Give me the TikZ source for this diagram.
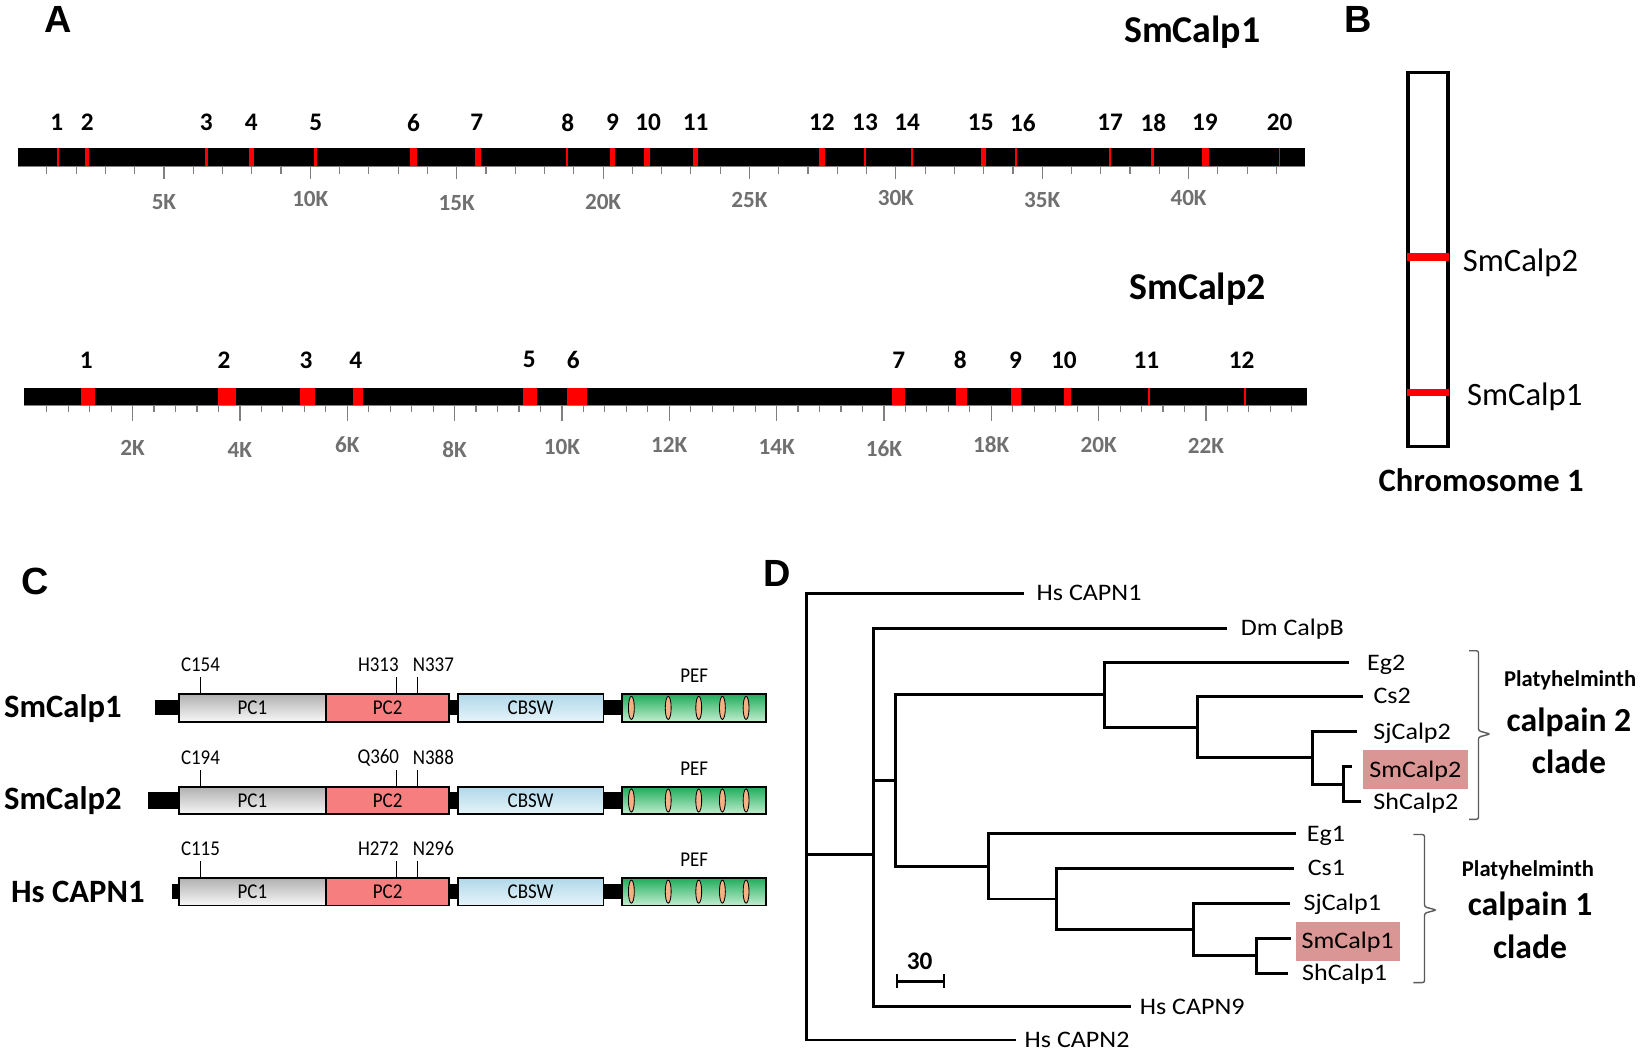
\documentclass[tikz,border=0pt]{standalone}
\usepackage{fontspec}
\setmainfont{Carlito}
\newfontfamily\arialfont{Liberation Sans}
\newfontfamily\narrowfont[FakeStretch=0.9]{Carlito}
\newfontfamily\widefont[FakeStretch=1.1]{Carlito}
\usetikzlibrary{positioning}
\newcommand{\fsz}[1]{\fontsize{#1}{#1}\selectfont}
\definecolor{exonred}{RGB}{255,0,0}
\definecolor{ticklabel}{RGB}{112,112,112}
\definecolor{pctwo}{RGB}{246,126,126}
\definecolor{cbswtop}{RGB}{176,216,233}
\definecolor{cbswbot}{RGB}{230,244,250}
\definecolor{peftop}{RGB}{30,172,90}
\definecolor{pefbot}{RGB}{196,238,208}
\definecolor{efhand}{RGB}{244,177,131}
\definecolor{highlight}{RGB}{217,150,148}
\definecolor{bracket}{RGB}{90,90,90}

\begin{document}
\begin{tikzpicture}[x=1pt, y=-1pt]
  \useasboundingbox[fill=white] (0, 0) rectangle (1568, 1000);  % whole figure

  \tikzstyle{letter}=[font=\arialfont\fsz{36}\bfseries, inner sep=0pt]
  \tikzstyle{title}=[font=\fsz{36}\bfseries, inner sep=0pt]
  \tikzstyle{exon}=[fill=exonred]
  \tikzstyle{num}=[font=\fsz{24}\bfseries, inner sep=0pt]
  \tikzstyle{tickline}=[draw=gray, line width=1.1pt]
  \tikzstyle{klabel}=[font=\fsz{22}\bfseries, text=ticklabel, inner sep=0pt]
  \tikzstyle{chrom}=[font=\fsz{31}, anchor=west, inner sep=0pt]
  \tikzstyle{rowname}=[font=\fsz{31}\bfseries, anchor=west, inner sep=0pt]
  \tikzstyle{dombox}=[draw, line width=1.8pt, minimum height=26.4pt, inner sep=0pt, font=\narrowfont\fsz{20}]
  \tikzstyle{site}=[font=\narrowfont\fsz{20}, inner sep=0pt]
  \tikzstyle{linker}=[fill=black]
  \tikzstyle{branch}=[line width=2.8pt]
  \tikzstyle{leaf}=[font=\widefont\fsz{22.5}, inner sep=0pt, text height=16pt, text depth=2pt]
  \tikzstyle{hilite}=[leaf, fill=highlight, minimum width=100pt, minimum height=37pt]
  \tikzstyle{cladehead}=[font=\fsz{21.5}\bfseries, inner sep=0pt]
  \tikzstyle{cladename}=[font=\fsz{32}\bfseries, inner sep=0pt]
  \tikzstyle{brace}=[draw=bracket, line width=1.3pt, rounded corners=2pt]

  % A: gene structures
  \node[letter] (lA) at (55.5, 18.7) {A};
  \node[title] (g1) at (1133, 31) {SmCalp1};
  \fill (16.7, 141) rectangle (1240, 158);
  \draw[tickline] (16.7, 158) -- (1240, 158);
  \foreach \k in {1,...,43}
    \draw[tickline] ({16.7+27.82*\k}, 158) -- ++(0, 7.5);
  \foreach \k/\yy in {5/191.6, 10/189.4, 15/193.2, 20/191.6, 25/190, 30/188.5, 35/190, 40/188.5} {
    \draw[tickline] ({16.7+27.82*\k}, 158) -- ++(0, 12);
    \node[klabel] (k1-\k) at ({16.7+27.82*\k}, \yy) {\k K};
  }
  \foreach \n/\xx/\w/\lx in {1/55/1.5/54, 2/83/4/83, 3/196/2.5/196, 4/239/4.4/238.7,
      5/300/2.4/300, 6/393/6.8/393, 7/454/5.6/453, 8/539/2.4/539.5, 9/582/5.2/582,
      10/614.6/6/616, 11/660.8/5.2/661, 12/781/6/781, 13/822/1.5/822, 14/866.7/1.5/862,
      15/934.6/3.9/932, 16/965.5/2/972, 17/1054.8/2/1055, 18/1095.5/3/1096,
      19/1145.6/6/1145, 20/1216/1.5/1216} {
    \fill[exon] ({\xx-\w/2}, 141) rectangle ({\xx+\w/2}, 158);
    \node[num] (e1-\n) at (\lx, 116.6) {\n};
  }

  \node[title] (g2) at (1138, 275) {SmCalp2};
  \fill (23.2, 369) rectangle (1242, 385);
  \draw[tickline] (23.2, 385) -- (1242, 385);
  \foreach \j in {1,...,59}
    \draw[tickline] ({24+20.4*\j}, 385) -- ++(0, 6.3);
  \foreach \k/\yy in {2/426, 4/427.6, 6/422.9, 8/427.6, 10/424.4, 12/422.9, 14/424.4,
      16/426, 18/422.9, 20/422.9, 22/423.8} {
    \draw[tickline] ({24+51*\k}, 385) -- ++(0, 15);
    \node[klabel] (k2-\k) at ({24+51*\k}, \yy) {\k K};
  }
  \foreach \n/\xx/\w/\lx in {1/83.5/13.5/82, 2/215.6/17/212.8, 3/292/14/290.8,
      4/340/10/338, 5/503.5/13/503, 6/548.4/19/544.8, 7/854/11.8/854,
      8/913.7/11/912.6, 9/965.7/10/965, 10/1014/6.6/1011, 11/1091.6/2/1089.5,
      12/1183/2/1180} {
    \fill[exon] ({\xx-\w/2}, 369) rectangle ({\xx+\w/2}, 385);
    \node[num] (e2-\n) at (\lx, 342) {\n};
  }

  % B: chromosome
  \node[letter] (lB) at (1291, 18.7) {B};
  \draw[line width=3.2pt] (1338, 69) rectangle (1376, 424.5);
  \draw[exonred, line width=7pt] (1337, 244.3) -- (1377, 244.3);
  \draw[exonred, line width=7pt] (1337, 373) -- (1377, 373);
  \node[chrom] (loc2) at (1390, 250) {SmCalp2};
  \node[chrom] (loc1) at (1394, 377) {SmCalp1};
  \node[font=\fsz{31}\bfseries, inner sep=0pt] (chr) at (1407.5, 456) {Chromosome 1};

  % C: domains
  \node[letter] (lC) at (33, 553) {C};
  \foreach \r/\yc/\name/\nx/\stub/\h/\sa/\sb/\sc in {
      1/672.7/SmCalp1/3.8/147/7.2/C154/H313/N337,
      2/760.7/SmCalp2/3.8/141/8/C194/Q360/N388,
      3/847.3/Hs CAPN1/10.4/163/7.2/C115/H272/N296} {
    \node[rowname] (name\r) at (\nx, {\yc+0.5}) {\name};
    \fill[linker] (\stub, {\yc-\h}) rectangle (172, {\yc+\h});
    \fill[linker] (426, {\yc-\h}) rectangle (436, {\yc+\h});
    \fill[linker] (572.5, {\yc-\h}) rectangle (592, {\yc+\h});
    \node[dombox, minimum width=139.7pt, top color=gray!62, bottom color=gray!6] (pc1-\r) at (239.85, \yc) {PC1};
    \node[dombox, minimum width=117.3pt, fill=pctwo] (pc2-\r) at (368.35, \yc) {PC2};
    \node[dombox, minimum width=138.5pt, top color=cbswtop, bottom color=cbswbot] (cbsw-\r) at (504.25, \yc) {CBSW};
    \node[dombox, minimum width=137pt, top color=peftop, bottom color=pefbot] (pef-\r) at (659.5, \yc) {};
    \foreach \ex in {600, 635, 664, 686.5, 709}
      \draw[fill=efhand, line width=0.8pt] (\ex, \yc) ellipse [x radius=2.8pt, y radius=11pt];
    \draw[line width=1.3pt] (190.5, {\yc-13.2}) -- (190.5, {\yc-29.3});
    \draw[line width=1.3pt] (377, {\yc-13.2}) -- (377, {\yc-29.3});
    \draw[line width=1.3pt] (397, {\yc-13.2}) -- (397, {\yc-29.3});
    \node[site] (sa-\r) at (190.5, {\yc-41}) {\sa};
    \node[site] (sb-\r) at (359.5, {\yc-41}) {\sb};
    \node[site] (sc-\r) at (411.8, {\yc-41}) {\sc};
    \node[site] (pefl-\r) at (659.7, {\yc-30.5}) {PEF};
  }

  % D: tree
  \node[letter] (lD) at (739, 545) {D};
  \coordinate (root) at (766.5, 812.4);
  \coordinate (nA) at (830, 812.4);
  \coordinate (nB) at (851, 741.9);
  \coordinate (nC2) at (1050, 660.4);
  \coordinate (nC2b) at (1138, 691.1);
  \coordinate (nC2c) at (1247, 720.2);
  \coordinate (nC2d) at (1277, 745.2);
  \coordinate (nC1) at (939, 823.4);
  \coordinate (nC1b) at (1004, 854.3);
  \coordinate (nC1c) at (1134.6, 883.3);
  \coordinate (nC1d) at (1194, 908.3);

  \coordinate (tCapn1) at (973.5, 563.8);
  \coordinate (tCalpB) at (1166, 597.1);
  \coordinate (tEg2) at (1282, 629.7);
  \coordinate (tCs2) at (1295.6, 662);
  \coordinate (tSj2) at (1290, 695.3);
  \coordinate (tSm2) at (1285, 728.5);
  \coordinate (tSh2) at (1293, 761.8);
  \coordinate (tEg1) at (1232, 792.5);
  \coordinate (tCs1) at (1229.6, 825.2);
  \coordinate (tSj1) at (1226, 858.4);
  \coordinate (tSm1) at (1227, 891.6);
  \coordinate (tSh1) at (1224.3, 924.9);
  \coordinate (tCapn9) at (1075, 956.6);
  \coordinate (tCapn2) at (965.6, 988.3);

  \node[leaf, right=11.5pt of tCapn1] (capn1) {Hs CAPN1};
  \node[leaf, right=13pt of tCalpB] (calpb) {Dm CalpB};
  \node[leaf, right=17pt of tEg2] (eg2) {Eg2};
  \node[leaf, right=9.5pt of tCs2] (cs2) {Cs2};
  \node[leaf, right=15pt of tSj2] (sj2) {SjCalp2};
  \node[hilite, right=9.75pt of tSm2, yshift=-2.9pt] (sm2) {SmCalp2};
  \node[leaf, right=12pt of tSh2] (sh2) {ShCalp2};
  \node[leaf, right=9.7pt of tEg1] (eg1) {Eg1};
  \node[leaf, right=13pt of tCs1] (cs1) {Cs1};
  \node[leaf, right=12.6pt of tSj1] (sj1) {SjCalp1};
  \node[hilite, right=4pt of tSm1, minimum width=99pt, yshift=-2.8pt] (sm1) {SmCalp1};
  \node[leaf, right=13pt of tSh1] (sh1) {ShCalp1};
  \node[leaf, right=8pt of tCapn9] (capn9) {Hs CAPN9};
  \node[leaf, right=8pt of tCapn2] (capn2) {Hs CAPN2};

  \draw[branch] (tCapn1) -| (root) |- (tCapn2);
  \draw[branch] (root) -- (nA);
  \draw[branch] (tCalpB) -| (nA) |- (tCapn9);
  \draw[branch] (nA |- nB) -- (nB);
  \draw[branch] (nC2) -| (nB) |- (nC1);
  \draw[branch] (tEg2) -| (nC2) |- (nC2b);
  \draw[branch] (tCs2) -| (nC2b) |- (nC2c);
  \draw[branch] (tSj2) -| (nC2c) |- (nC2d);
  \draw[branch] (tSm2) -| (nC2d) |- (tSh2);
  \draw[branch] (tEg1) -| (nC1) |- (nC1b);
  \draw[branch] (tCs1) -| (nC1b) |- (nC1c);
  \draw[branch] (tSj1) -| (nC1c) |- (nC1d);
  \draw[branch] (tSm1) -| (nC1d) |- (tSh1);

  \draw[brace] (1396, 618.4) -- (1405, 618.4) -- (1405, 694.5) -- (1416, 697.5)
               -- (1405, 700.5) -- (1405, 778.6) -- (1396, 778.6);
  \draw[brace] (1343, 793) -- (1353.7, 793) -- (1353.7, 861.8) -- (1365, 864.8)
               -- (1353.7, 867.8) -- (1353.7, 933.8) -- (1343, 933.8);
  \node[cladehead] (pl2) at (1492, 647) {Platyhelminth};
  \node[cladename] (ca2) at (1491, 686.8) {calpain 2};
  \node[cladename] (cl2) at (1491, 724) {clade};
  \node[cladehead] (pl1) at (1452, 826.7) {Platyhelminth};
  \node[cladename] (ca1) at (1454, 861.6) {calpain 1};
  \node[cladename] (cl1) at (1454, 899.8) {clade};

  \node[font=\fsz{24}\bfseries, inner sep=0pt] (bar) at (874, 913.9) {30};
  \draw[line width=3.5pt] (852, 932.8) -- (897, 932.8);
  \draw[line width=2pt] (852, 925.9) -- (852, 939.2);
  \draw[line width=2pt] (897, 925.9) -- (897, 939.2);
\end{tikzpicture}
\end{document}
